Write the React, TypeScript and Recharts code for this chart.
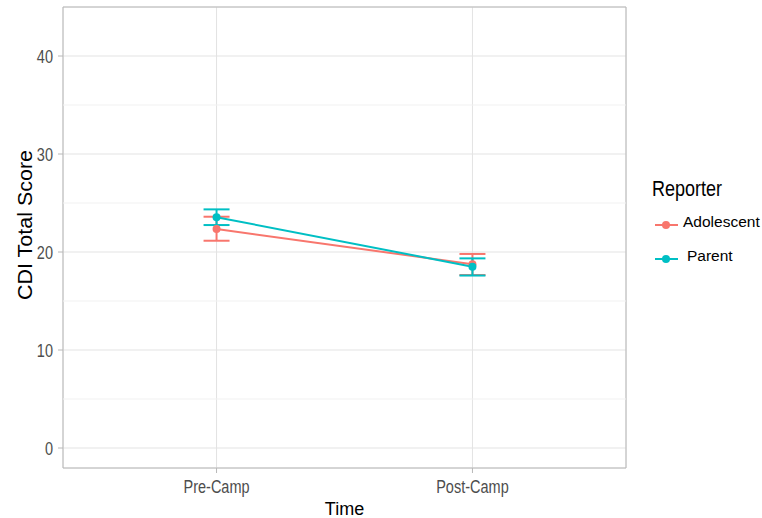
import React from 'react';
import {
  ComposedChart,
  Line,
  XAxis,
  YAxis,
  CartesianGrid,
  ErrorBar,
  ReferenceLine,
  ReferenceArea,
  Label,
} from 'recharts';

const timeLabels = ['Pre-Camp', 'Post-Camp'];
const timePos = [1, 2];

const adolescentMean = [22.35, 18.75];
const adolescentLow = [21.15, 17.65];
const adolescentHigh = [23.6, 19.8];

const parentMean = [23.55, 18.5];
const parentLow = [22.75, 17.6];
const parentHigh = [24.35, 19.35];

const yTicks = [0, 10, 20, 30, 40];
const yMinor = [5, 15, 25, 35];

const ADOL = '#F8766D';
const PAR = '#00BFC4';

const data = timePos.map((t, i) => ({
  t,
  adol: adolescentMean[i],
  adolErr: [adolescentMean[i] - adolescentLow[i], adolescentHigh[i] - adolescentMean[i]],
  par: parentMean[i],
  parErr: [parentMean[i] - parentLow[i], parentHigh[i] - parentMean[i]],
}));

const font = '"Liberation Sans", Arial, sans-serif';
const stretch = (y: number) => `translate(0 ${y}) scale(1 1.25) translate(0 ${-y})`;

// tick text is a bit taller than wide in the original, so stretch it vertically
const YTick = ({ x, y, payload }: any) => (
  <text
    x={x}
    y={y}
    dy="0.36em"
    textAnchor="end"
    fontSize={14.5}
    fontFamily={font}
    fill="#4d4d4d"
    transform={stretch(y)}
  >
    {payload.value}
  </text>
);

const XTick = ({ x, y, payload }: any) => (
  <text
    x={x}
    y={y}
    dy="0.72em"
    textAnchor="middle"
    fontSize={14.5}
    fontFamily={font}
    fill="#4d4d4d"
    transform={stretch(y)}
  >
    {timeLabels[payload.value - 1]}
  </text>
);

export default function App() {
  return (
    <div style={{ position: 'absolute', left: 0, top: 0, width: 762, height: 518, background: '#fff' }}>
      <ComposedChart
        width={762}
        height={518}
        data={data}
        margin={{ top: 7, right: 136, bottom: 0, left: 0 }}
      >
        <CartesianGrid stroke="#e3e3e3" strokeWidth={1} />
        {yMinor.map((v) => (
          <ReferenceLine key={v} y={v} stroke="#f1f1f1" strokeWidth={1} />
        ))}
        <ReferenceArea
          x1={0.4}
          x2={2.6}
          y1={-2.04}
          y2={45}
          fill="none"
          stroke="#b8b8b8"
          strokeWidth={1}
        />
        <XAxis
          dataKey="t"
          type="number"
          domain={[0.4, 2.6]}
          ticks={timePos}
          height={50}
          axisLine={false}
          tickSize={5}
          tickMargin={7}
          tickLine={{ stroke: '#b8b8b8' }}
          tick={<XTick />}
        >
          <Label
            content={({ viewBox }: any) => (
              <text
                x={viewBox.x + viewBox.width / 2}
                y={515}
                textAnchor="middle"
                fontSize={18}
                fontFamily={font}
                fill="#000"
              >
                Time
              </text>
            )}
          />
        </XAxis>
        <YAxis
          type="number"
          domain={[-2.04, 45]}
          ticks={yTicks}
          width={63}
          axisLine={false}
          tickSize={5}
          tickMargin={5}
          tickLine={{ stroke: '#b8b8b8' }}
          tick={<YTick />}
        >
          <Label
            content={() => (
              <text
                x={32}
                y={225}
                transform="rotate(-90 32 225)"
                textAnchor="middle"
                fontSize={20}
                textLength={150}
                lengthAdjust="spacingAndGlyphs"
                fontFamily={font}
                fill="#000"
              >
                CDI Total Score
              </text>
            )}
          />
        </YAxis>
        <Line
          dataKey="adol"
          stroke={ADOL}
          strokeWidth={2}
          dot={{ r: 4, fill: ADOL, stroke: ADOL, strokeWidth: 0 }}
          isAnimationActive={false}
        >
          <ErrorBar dataKey="adolErr" direction="y" width={13} stroke={ADOL} strokeWidth={2} />
        </Line>
        <Line
          dataKey="par"
          stroke={PAR}
          strokeWidth={2}
          dot={{ r: 4, fill: PAR, stroke: PAR, strokeWidth: 0 }}
          isAnimationActive={false}
        >
          <ErrorBar dataKey="parErr" direction="y" width={13} stroke={PAR} strokeWidth={2} />
        </Line>
      </ComposedChart>
      <svg
        width={130}
        height={110}
        style={{ position: 'absolute', left: 640, top: 170 }}
      >
        <text x={12} y={26} fontSize={18} fontFamily={font} fill="#000" transform={stretch(26)}>
          Reporter
        </text>
        <line x1={15} x2={38} y1={55} y2={55} stroke={ADOL} strokeWidth={2} />
        <circle cx={26} cy={55} r={4} fill={ADOL} />
        <text x={43} y={57} fontSize={15.5} fontFamily={font} fill="#000">
          Adolescent
        </text>
        <line x1={15} x2={38} y1={89} y2={89} stroke={PAR} strokeWidth={2} />
        <circle cx={26} cy={89} r={4} fill={PAR} />
        <text x={47} y={91} fontSize={15.5} fontFamily={font} fill="#000">
          Parent
        </text>
      </svg>
    </div>
  );
}
